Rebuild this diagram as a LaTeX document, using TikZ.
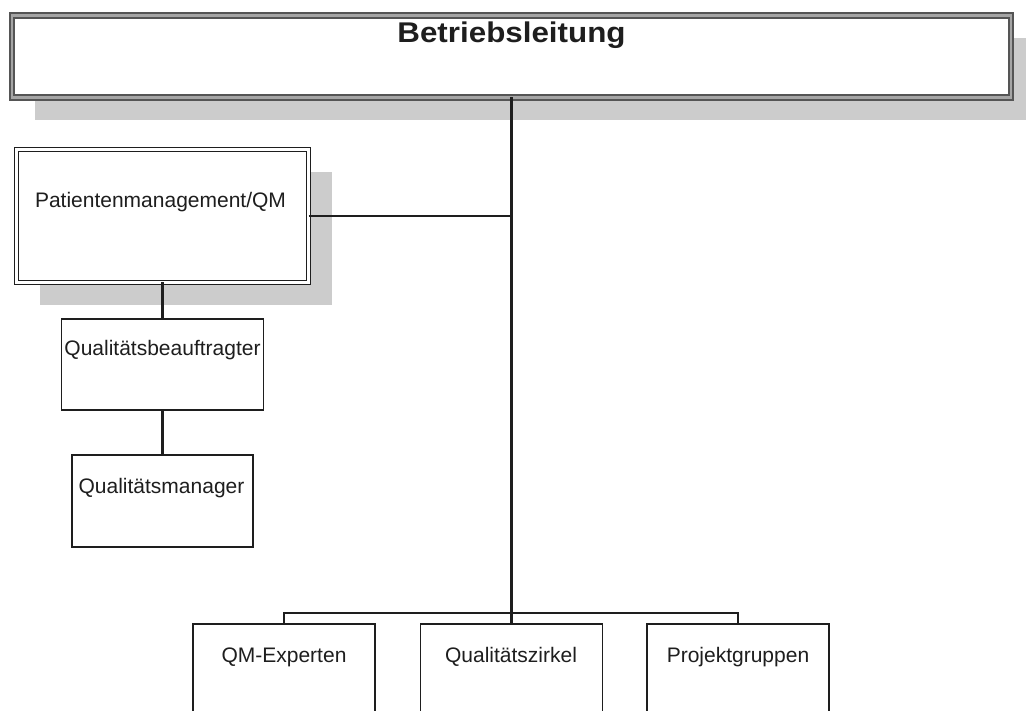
\documentclass[tikz,border=0pt]{standalone}
\usepackage{fontspec}
\setmainfont{Liberation Sans}
\usetikzlibrary{shadows}
\definecolor{shadowgray}{RGB}{204,204,204}
\definecolor{linegray}{RGB}{30,30,30}
\definecolor{topline}{RGB}{85,85,85}
\definecolor{topgap}{RGB}{165,165,165}
\definecolor{textgray}{RGB}{30,30,30}
\tikzset{
  shad/.style={drop shadow={shadow xshift=23pt, shadow yshift=-23pt, opacity=1, fill=shadowgray}},
  tbox/.style={draw=topline, line width=2pt, double=topgap, double distance=2.6pt,
    rectangle, inner sep=0pt, outer sep=0pt, fill=white, shad},
  dbox/.style={draw=linegray, line width=1.6pt, double=white, double distance=2.2pt,
    rectangle, inner sep=0pt, outer sep=0pt, fill=white, shad},
  sbox/.style={draw=linegray, line width=1.8pt, rectangle, inner sep=0pt, outer sep=0pt, fill=white},
  txt/.style={anchor=base, inner sep=0pt, text=textgray, font=\fontsize{21}{25}\selectfont},
  ttl/.style={anchor=base, inner sep=0pt, text=textgray, font=\fontsize{28.5}{32}\selectfont\bfseries},
  conn/.style={draw=linegray, line width=2.2pt}
}
\begin{document}
\begin{tikzpicture}[x=1pt, y=-1pt]
\useasboundingbox (0,0) rectangle (1026,711);
\clip (0,0) rectangle (1026,711);
\fill[white] (0,0) rectangle (1026,711);

% boxes
\node[tbox, minimum width=999pt, minimum height=82pt] (top) at (511.5,56.5) {};
\node[dbox, minimum width=292pt, minimum height=133pt] (pat) at (162.5,216) {};
\node[sbox, minimum width=202pt, minimum height=91pt] (qb) at (162.5,364.5) {};
\node[sbox, minimum width=181pt, minimum height=92pt] (qm) at (162.5,501) {};
\node[sbox, minimum width=182pt, minimum height=140pt] (qme) at (284,694) {};
\node[sbox, minimum width=182pt, minimum height=140pt] (qz) at (511.5,694) {};
\node[sbox, minimum width=182pt, minimum height=140pt] (pg) at (738,694) {};

% texts
\node[ttl] (ttop) at (511.5,43) {\scalebox{1.1}[1]{Betriebsleitung}};
\node[txt] (tpat) at (160.5,208) {Patientenmanagement/QM};
\node[txt] (tqb) at (162.5,356) {Qualitätsbeauftragter};
\node[txt] (tqm) at (161.5,493) {Qualitätsmanager};
\node[txt] (tqme) at (284,662) {QM-Experten};
\node[txt] (tqz) at (511,662) {Qualitätszirkel};
\node[txt] (tpg) at (738,662) {Projektgruppen};

% connectors
\coordinate (bar) at (511.5,613);
\draw[conn] (top.south) -- (qz.north);
\draw[conn] (pat.east) -- (pat.east -| top.south);
\draw[conn] (pat.south) -- (qb.north);
\draw[conn] (qb.south) -- (qm.north);
\draw[conn] (qme.north) |- (bar) -| (pg.north);
\end{tikzpicture}
\end{document}
